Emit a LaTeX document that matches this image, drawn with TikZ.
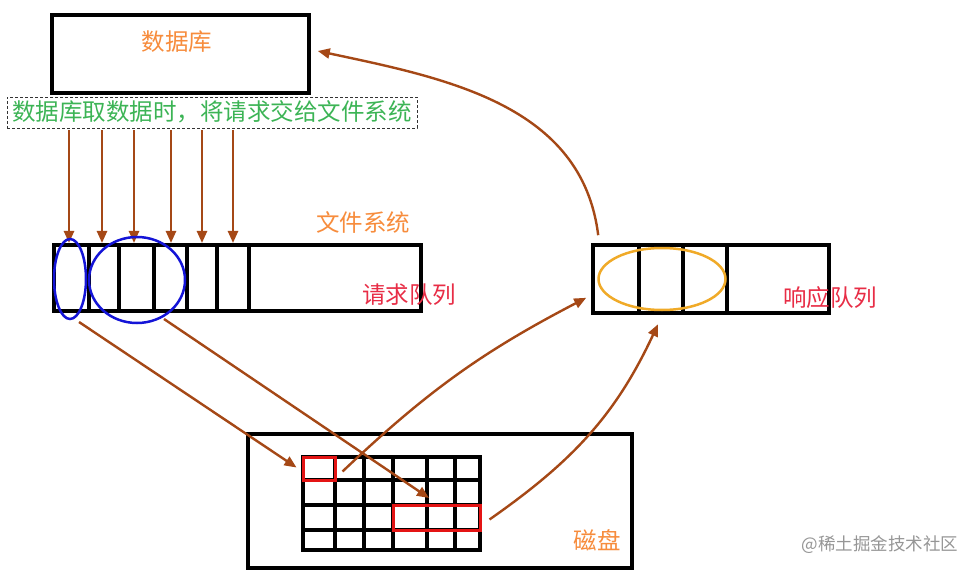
\documentclass[tikz,border=0pt]{standalone}
\usepackage{fontspec}
\setmainfont{Noto Sans CJK SC}
\usetikzlibrary{shapes.geometric,arrows.meta}
\definecolor{arrbrown}{RGB}{165,72,22}
\definecolor{txtorange}{RGB}{247,140,60}
\definecolor{txtgreen}{RGB}{60,180,85}
\definecolor{txtred}{RGB}{232,45,70}
\definecolor{boxred}{RGB}{228,20,20}
\definecolor{ellblue}{RGB}{20,20,215}
\definecolor{ellorange}{RGB}{240,170,40}
\definecolor{wmgray}{RGB}{150,150,150}
\tikzset{
  bigbox/.style={draw=black,line width=3.6pt,inner sep=0pt},
  dashbox/.style={draw=black!80,dashed,dash pattern=on 3pt off 2pt,line width=0.9pt,inner sep=0pt},
  lbl/.style={inner sep=0pt,font=\fontsize{23.5}{26}\selectfont},
  arr/.style={draw=arrbrown,line width=2.4pt,-{Triangle[length=12pt,width=10pt]}},
  divider/.style={line width=3.2pt},
  gridline/.style={line width=3.4pt},
  redbox/.style={draw=boxred,line width=3pt,inner sep=0pt},
  ell/.style={ellipse,inner sep=0pt,line width=2.5pt},
}
\begin{document}
\begin{tikzpicture}[x=1pt,y=-1pt]
\useasboundingbox (0,0) rectangle (977,572);
\fill[white] (0,0) rectangle (977,572);

% database
\node[bigbox,minimum width=257pt,minimum height=78pt] (db) at (180.5,54) {};
\node[lbl,text=txtorange] (dbtxt) at (177,42) {数据库};

% dashed label
\node[dashbox,minimum width=410pt,minimum height=31pt] (lblbox) at (212,112.5) {};
\node[lbl,text=txtgreen] (lbltxt) at (212,112) {数据库取数据时，将请求交给文件系统};

% request queue
\node[bigbox,minimum width=367pt,minimum height=66pt] (rq) at (237.5,278) {};
\foreach \x in {89,119,154,187,217,249}{\draw[divider] (\x,245) -- (\x,311);}
\node[lbl,text=txtorange] (fstxt) at (363,222) {文件系统};
\node[lbl,text=txtred] (rqtxt) at (409,295) {请求队列};

% request arrows
\foreach \x/\n in {69/1,102/2,134/3,171/4,202/5,233/6}{
  \coordinate (q\n) at (\x,243);
  \draw[arr] (lblbox.south -| q\n) ++(0,2) -- (q\n);
}

% ellipses on request queue
\node[ell,draw=ellblue,minimum width=32pt,minimum height=80pt] (e1) at (70,279) {};
\node[ell,draw=ellblue,minimum width=96pt,minimum height=86pt] (e2) at (137,280) {};

% response queue
\node[bigbox,minimum width=236pt,minimum height=68pt] (resp) at (711,279) {};
\foreach \x in {639,683,727}{\draw[divider] (\x,245) -- (\x,313);}
\node[ell,draw=ellorange,minimum width=127pt,minimum height=62pt] (oe) at (662,279) {};
\node[lbl,text=txtred] (resptxt) at (830,298) {响应队列};

% disk
\node[bigbox,minimum width=384pt,minimum height=134pt] (disk) at (440,501) {};
\node[lbl,text=txtorange] (disktxt) at (597,540) {磁盘};
\draw[gridline] (303,457) rectangle (480,550);
\foreach \x in {335,364,393,427,455}{\draw[gridline] (\x,457) -- (\x,550);}
\foreach \y in {480,505,530}{\draw[gridline] (303,\y) -- (480,\y);}
\node[redbox,minimum width=32pt,minimum height=23pt] (r1) at (319,468.5) {};
\node[redbox,minimum width=87pt,minimum height=25pt] (r2) at (436.5,517.5) {};

% arrows between parts
\draw[arr] ([shift={(9,43)}]e1.center) -- ([shift={(-5,-1)}]r1.west);
\draw[arr] ([shift={(27,39)}]e2.center) -- ([shift={(-7.5,-19.5)}]r2.center);
\draw[arr] ([shift={(6,3)}]r1.east) to[bend left=8] ([shift={(-5,-17)}]resp.south west);
\draw[arr] ([shift={(8,2)}]r2.east) to[out=35,in=-115] ([shift={(-4,13)}]oe.south);
\draw[arr] ([shift={(7,-8)}]resp.north west) to[out=97,in=-12] ([shift={(7,-3)}]db.east);

% watermark
\node[inner sep=0pt,text=wmgray,font=\fontsize{17.5}{20}\selectfont] (wm) at (880,545) {@稀土掘金技术社区};
\end{tikzpicture}
\end{document}
